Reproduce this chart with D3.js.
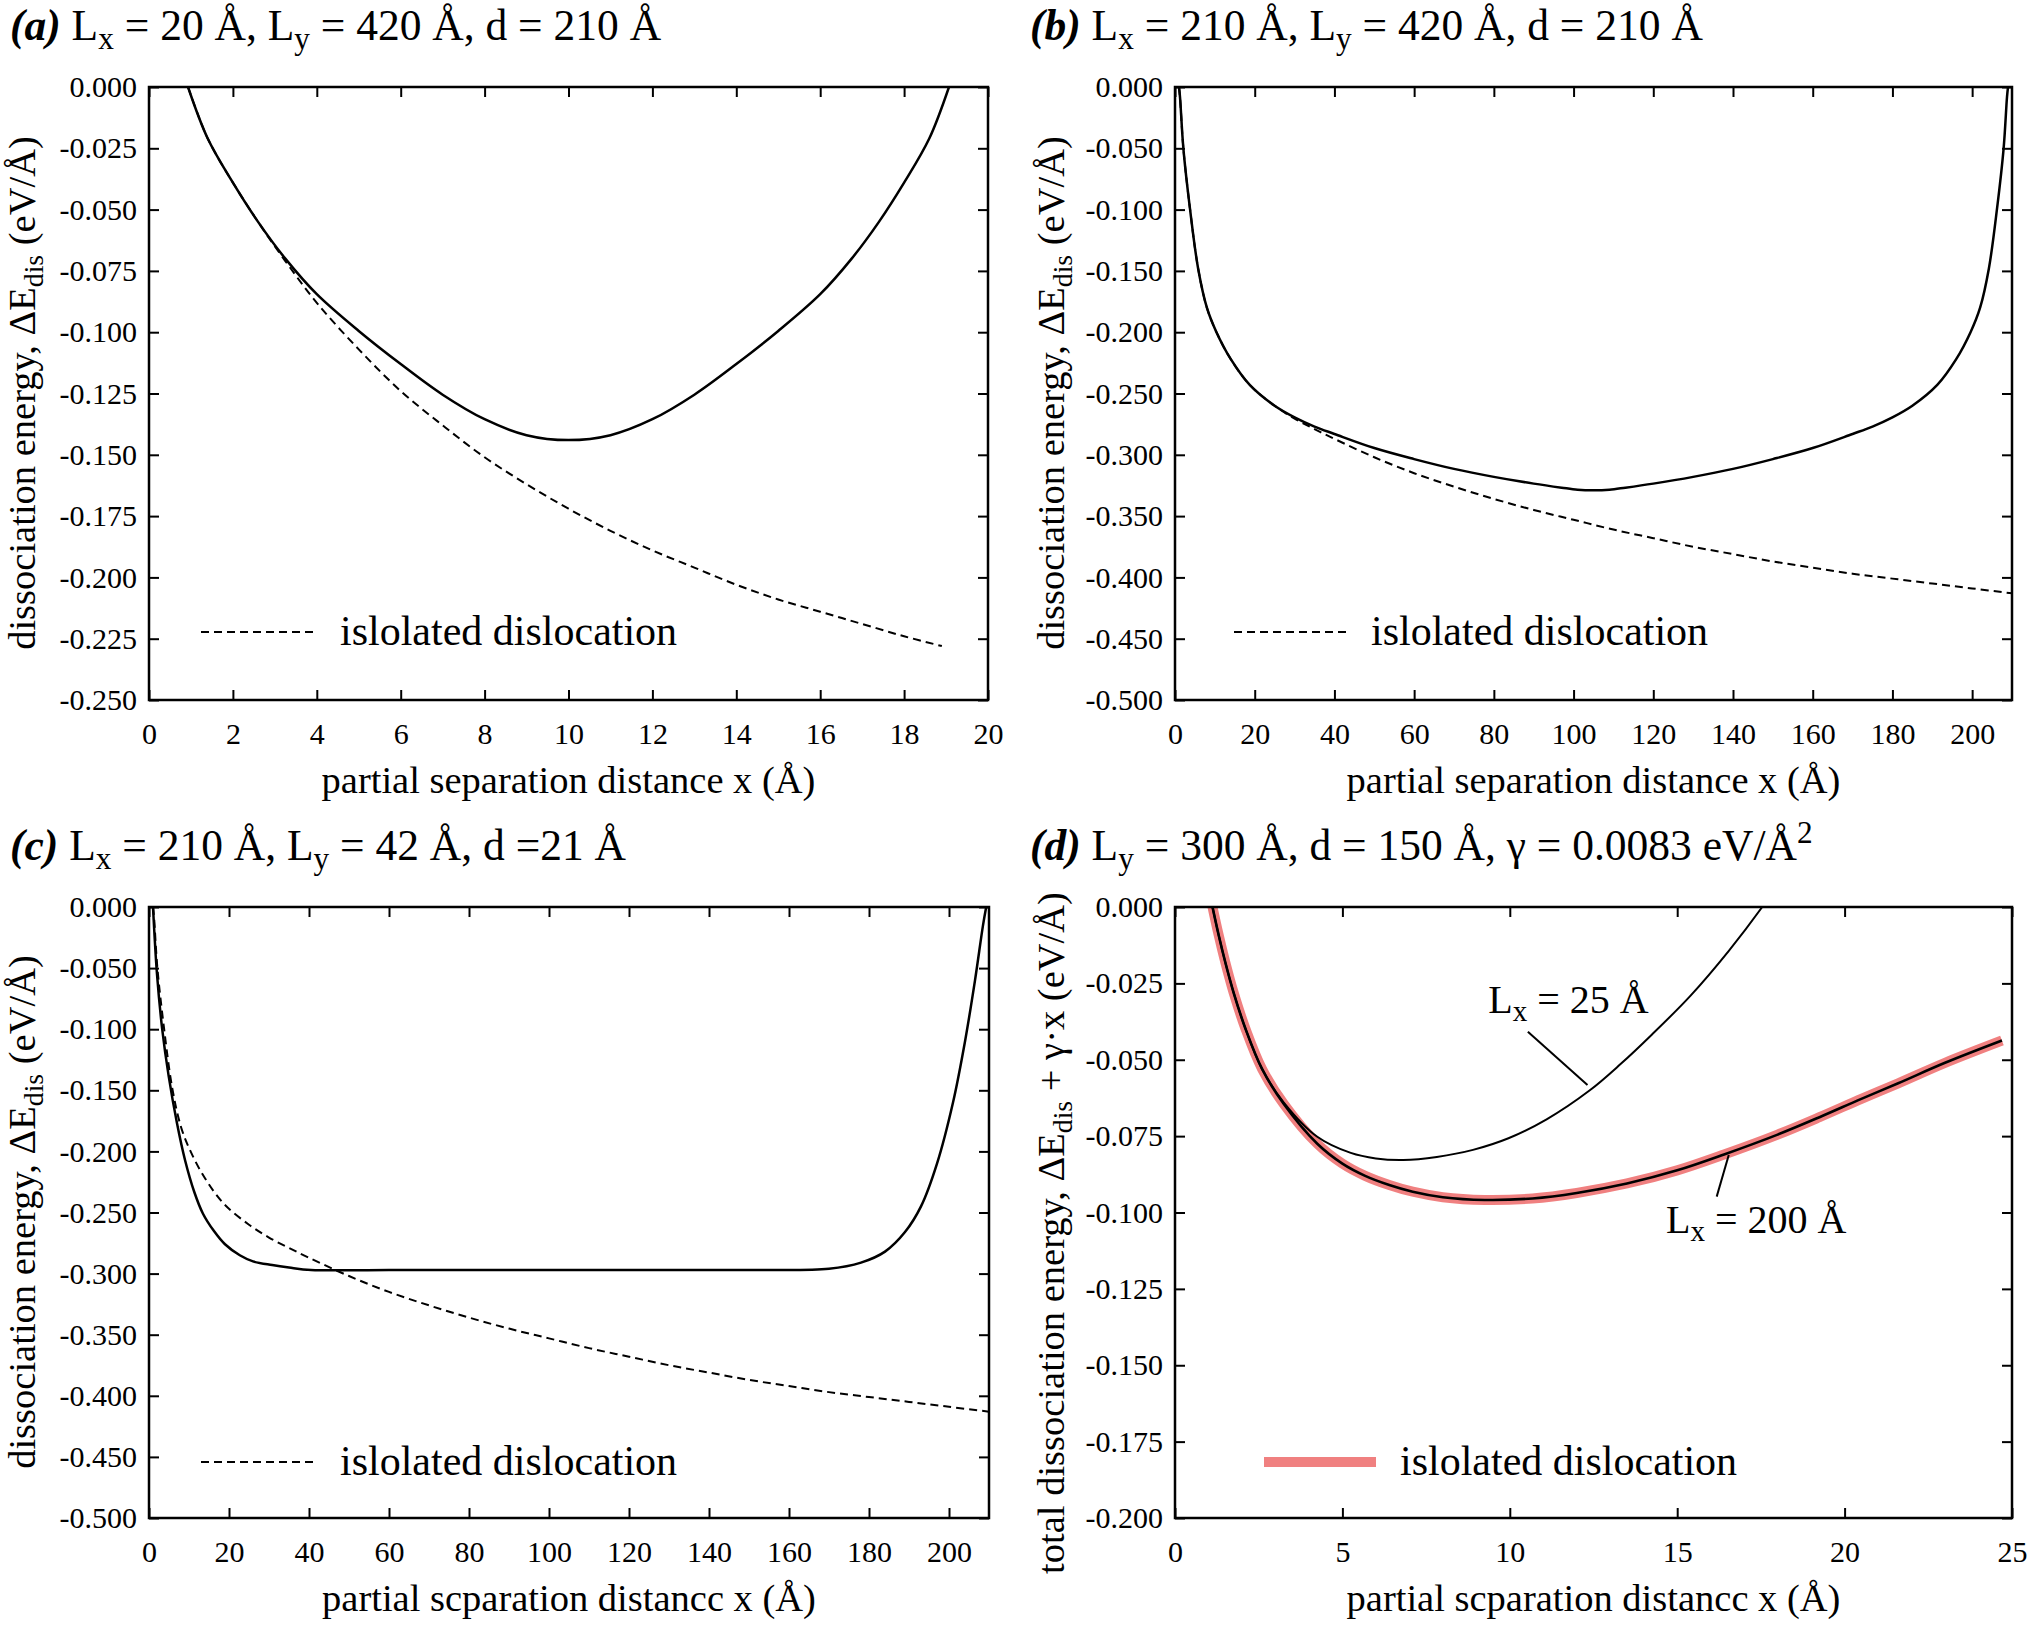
<!DOCTYPE html>
<html><head><meta charset="utf-8">
<script src="https://cdn.jsdelivr.net/npm/d3@7"></script>
<style>
body{margin:0;background:#fff}
svg{display:block}
svg text{font-family:"Liberation Serif","Times New Roman",serif !important;fill:#000}
</style>
</head><body>
<svg id="chart" width="2032" height="1628"></svg>
<script>
// ---------------- DATA ----------------
// (a) Lx = 20, Ly = 420, d = 210
const aSolidX = [0.93,1.4,2,2.6,3.25,4,5,6,7,8,9,10,11,12,13,14,15,16,16.75,17.4,18,18.6,19.07];
const aSolidY = [0,-0.021,-0.039,-0.055,-0.070,-0.0845,-0.0995,-0.113,-0.1255,-0.1355,-0.142,-0.144,-0.142,-0.1355,-0.1255,-0.113,-0.0995,-0.0845,-0.070,-0.055,-0.039,-0.021,0];
const aIsoX = [0.93,1.4,2,2.6,3.25,4,5,6,7,8,9,10,11,12,13,14,15,16,17,18,18.9];
const aIsoY = [0,-0.021,-0.039,-0.055,-0.071,-0.088,-0.107,-0.124,-0.138,-0.151,-0.162,-0.172,-0.181,-0.189,-0.196,-0.203,-0.209,-0.214,-0.219,-0.224,-0.228];
// (b) Lx = 210, Ly = 420, d = 210
const bSolidX = [1.0,1.25,2.1,3.75,5.8,8,10.4,14,18.75,25,30,35,40,50,60,70,80,90,97,101,105,109,113,120,130,140,150,160,170,175,180,185,191.25,196,199.6,202,204.2,206.25,207.9,208.75,209];
const bSolidY = [0,-0.008,-0.050,-0.099,-0.148,-0.180,-0.200,-0.222,-0.243,-0.260,-0.2695,-0.277,-0.283,-0.2945,-0.3035,-0.3115,-0.318,-0.3235,-0.3268,-0.3285,-0.329,-0.3285,-0.3268,-0.3235,-0.318,-0.3115,-0.3035,-0.2945,-0.283,-0.277,-0.2695,-0.260,-0.243,-0.222,-0.200,-0.180,-0.148,-0.099,-0.050,-0.008,0];
const isoX = [1.0,1.25,2.1,3.75,5.8,8,10.4,14,18.75,25,30,35,40,50,60,70,80,90,100,110,120,130,140,150,160,170,180,190,200,210];
const isoY = [0,-0.008,-0.050,-0.099,-0.148,-0.180,-0.200,-0.222,-0.243,-0.260,-0.2705,-0.279,-0.287,-0.302,-0.315,-0.326,-0.336,-0.345,-0.353,-0.361,-0.368,-0.375,-0.381,-0.387,-0.392,-0.397,-0.401,-0.405,-0.409,-0.413];
// (c) Lx = 210, Ly = 42, d = 21
const cSolidX = [1,2,3.3,4.9,7,9,11.3,13.5,16.2,19,22.7,26,30.8,35,40.5,60,100,150,170,178,184,189,193,197,201,204,206.5,208.5,209.3];
const cSolidY = [0,-0.055,-0.100,-0.138,-0.177,-0.207,-0.233,-0.251,-0.265,-0.276,-0.285,-0.290,-0.293,-0.295,-0.297,-0.297,-0.297,-0.297,-0.296,-0.291,-0.282,-0.266,-0.245,-0.210,-0.160,-0.110,-0.060,-0.015,0];
// (d) Ly = 300, d = 150, gamma = 0.0083
const dIsoX = [1.12,1.3,1.5,1.75,2.11,2.6,3.25,4.25,5,5.68,6.4,7.1,8,9.25,10.68,12,13.5,15,16.4,18,19.25,20.5,21.6,23,24.7];
const dIsoY = [0,-0.009,-0.018,-0.028,-0.040,-0.053,-0.0645,-0.0775,-0.084,-0.088,-0.091,-0.0932,-0.0950,-0.0959,-0.0954,-0.0936,-0.0905,-0.0862,-0.0810,-0.0745,-0.0688,-0.0628,-0.0577,-0.051,-0.0437];
const d25X = [1.12,1.3,1.5,1.75,2.11,2.6,3.25,4.25,5.25,6,6.82,7.82,8.9,9.96,11.1,12.39,13.3,14.24,15.4,16.53,17.54];
const d25Y = [0,-0.009,-0.018,-0.028,-0.040,-0.053,-0.064,-0.0752,-0.0805,-0.0823,-0.0828,-0.0818,-0.0795,-0.0757,-0.0695,-0.0600,-0.0515,-0.0418,-0.0290,-0.0145,0];

// ticks
const xTicksA = [0,2,4,6,8,10,12,14,16,18,20];
const xTicksBC = [0,20,40,60,80,100,120,140,160,180,200];
const xTicksD = [0,5,10,15,20,25];
const yTicksA = [0,-0.025,-0.05,-0.075,-0.1,-0.125,-0.15,-0.175,-0.2,-0.225,-0.25];
const yLabelsA = ["0.000","-0.025","-0.050","-0.075","-0.100","-0.125","-0.150","-0.175","-0.200","-0.225","-0.250"];
const yTicksBC = [0,-0.05,-0.1,-0.15,-0.2,-0.25,-0.3,-0.35,-0.4,-0.45,-0.5];
const yLabelsBC = ["0.000","-0.050","-0.100","-0.150","-0.200","-0.250","-0.300","-0.350","-0.400","-0.450","-0.500"];
const yTicksD = [0,-0.025,-0.05,-0.075,-0.1,-0.125,-0.15,-0.175,-0.2];
const yLabelsD = ["0.000","-0.025","-0.050","-0.075","-0.100","-0.125","-0.150","-0.175","-0.200"];

// ---------------- DRAW ----------------
const svg = d3.select("#chart");
const FONT = '"Liberation Serif","Times New Roman",serif';
const TICK_FS = 30, LABEL_FS = 38.5, TITLE_FS = 43.5, LEG_FS = 42;

function zip(xs, ys){ return xs.map((v,i)=>({x:v,y:ys[i]})); }

function title(x, y, parts){
  const t = svg.append("text").attr("x", x).attr("y", y).style("font-size", TITLE_FS+"px").style("font-family",FONT);
  parts.forEach(p=>{
    const s = t.append("tspan").text(p.t);
    if(p.bi) s.style("font-weight","bold").style("font-style","italic");
    if(p.sub){ s.attr("dy","0.28em").style("font-size",(TITLE_FS*0.72)+"px"); }
    if(p.sup){ s.attr("dy","-0.55em").style("font-size",(TITLE_FS*0.72)+"px"); }
    if(p.back) s.attr("dy", p.back);
  });
  return t;
}

function panel(cfg){
  const g = svg.append("g");
  const x = d3.scaleLinear().domain([0,cfg.xmax]).range([cfg.left,cfg.right]);
  const y = d3.scaleLinear().domain([cfg.ymin,0]).range([cfg.bottom,cfg.top]);
  const cid = "clip"+cfg.id;
  svg.append("clipPath").attr("id",cid).append("rect")
    .attr("x",cfg.left).attr("y",cfg.top).attr("width",cfg.right-cfg.left).attr("height",cfg.bottom-cfg.top);

  const ax = (gen, tr) => {
    const a = g.append("g").attr("transform",tr).call(gen).attr("font-family",FONT);
    a.select(".domain").remove();
    a.selectAll(".tick line").attr("stroke","#000").attr("stroke-width",2);
    a.selectAll("text").style("font-size",TICK_FS+"px").style("font-family",FONT);
    return a;
  };
  ax(d3.axisBottom(x).tickValues(cfg.xticks).tickFormat(d=>String(d)).tickSize(-10).tickPadding(23), `translate(0,${cfg.bottom})`);
  ax(d3.axisTop(x).tickValues(cfg.xticks).tickFormat("").tickSize(-10), `translate(0,${cfg.top})`);
  ax(d3.axisLeft(y).tickValues(cfg.yticks).tickFormat((d,i)=>cfg.ylabels[i]).tickSize(-10).tickPadding(12), `translate(${cfg.left},0)`);
  ax(d3.axisRight(y).tickValues(cfg.yticks).tickFormat("").tickSize(-10), `translate(${cfg.right},0)`);

  const plot = g.append("g").attr("clip-path",`url(#${cid})`);
  const line = d3.line().x(d=>x(d.x)).y(d=>y(d.y)).curve(d3.curveCatmullRom.alpha(0.5));
  cfg.series.forEach(s=>{
    plot.append("path").datum(zip(s.x,s.y)).attr("d",line)
      .attr("fill","none").attr("stroke",s.color||"#000").attr("stroke-width",s.w||2.5)
      .attr("stroke-dasharray",s.dash||null).attr("stroke-linejoin","round");
  });
  g.append("rect").attr("x",cfg.left).attr("y",cfg.top).attr("width",cfg.right-cfg.left).attr("height",cfg.bottom-cfg.top)
    .attr("fill","none").attr("stroke","#000").attr("stroke-width",2.5);

  // x label
  g.append("text").attr("x",(cfg.left+cfg.right)/2).attr("y",cfg.bottom+93).attr("text-anchor","middle")
    .style("font-size",LABEL_FS+"px").style("font-family",FONT).text(cfg.xlabel);
  // y label
  const yl = g.append("text").attr("transform",`translate(${cfg.ylx},${cfg.yly}) rotate(-90)`)
    .attr("text-anchor","middle").style("font-size",LABEL_FS+"px").style("font-family",FONT);
  cfg.ylabel.forEach(p=>{
    const s = yl.append("tspan").text(p.t);
    if(p.sub) s.attr("dy","0.28em").style("font-size",(LABEL_FS*0.72)+"px");
    if(p.back) s.attr("dy",p.back);
  });
  // legend
  if(cfg.legend){
    const L = cfg.legend;
    g.append("line").attr("x1",L.x1).attr("x2",L.x2).attr("y1",L.y).attr("y2",L.y)
      .attr("stroke",L.color||"#000").attr("stroke-width",L.w||2).attr("stroke-dasharray",L.dash||null);
    g.append("text").attr("x",L.tx).attr("y",L.y+13).style("font-size",LEG_FS+"px").style("font-family",FONT).text("islolated dislocation");
  }
  return {x,y,g};
}

const yLab = [{t:"dissociation energy, ΔE"},{t:"dis",sub:true},{t:" (eV/Å)",back:"-0.2em"}];

panel({id:"a",left:149,right:988,top:87,bottom:700,xmax:20,ymin:-0.25,
  xticks:xTicksA,yticks:yTicksA,ylabels:yLabelsA,
  xlabel:"partial separation distance x (Å)",ylx:35,yly:393,ylabel:yLab,
  series:[{x:aSolidX,y:aSolidY},{x:aIsoX,y:aIsoY,dash:"8,5",w:2}],
  legend:{x1:201,x2:315,y:632,dash:"8,5",tx:340}});
panel({id:"b",left:1175,right:2012,top:87,bottom:700,xmax:210,ymin:-0.5,
  xticks:xTicksBC,yticks:yTicksBC,ylabels:yLabelsBC,
  xlabel:"partial separation distance x (Å)",ylx:1064,yly:393,ylabel:yLab,
  series:[{x:bSolidX,y:bSolidY},{x:isoX,y:isoY,dash:"8,5",w:2}],
  legend:{x1:1234,x2:1348,y:632,dash:"8,5",tx:1371}});
panel({id:"c",left:149,right:989,top:907,bottom:1518,xmax:210,ymin:-0.5,
  xticks:xTicksBC,yticks:yTicksBC,ylabels:yLabelsBC,
  xlabel:"partial scparation distancc x (Å)",ylx:35,yly:1212,ylabel:yLab,
  series:[{x:cSolidX,y:cSolidY},{x:isoX,y:isoY,dash:"8,5",w:2}],
  legend:{x1:201,x2:315,y:1462,dash:"8,5",tx:340}});
const pd = panel({id:"d",left:1175,right:2012,top:907,bottom:1518,xmax:25,ymin:-0.2,
  xticks:xTicksD,yticks:yTicksD,ylabels:yLabelsD,
  xlabel:"partial scparation distancc x (Å)",ylx:1064,yly:1233,
  ylabel:[{t:"total dissociation energy, ΔE"},{t:"dis",sub:true},{t:" + γ·x (eV/Å)",back:"-0.2em"}],
  series:[{x:dIsoX,y:dIsoY,color:"#f08080",w:10},{x:dIsoX,y:dIsoY,w:2.6},{x:d25X,y:d25Y,w:2}],
  legend:{x1:1264,x2:1376,y:1462,color:"#f08080",w:10,tx:1400}});

// annotations in panel d (data coordinates)
const annG = svg.append("g");
const ann = [
  {tx:11.75, ty:-0.0347, lx1:10.54, ly1:-0.0408, lx2:12.32, ly2:-0.0583, sub:"x", rest:" = 25 Å"},
  {tx:17.36, ty:-0.1067, lx1:16.54, ly1:-0.0812, lx2:16.18, ly2:-0.0948, sub:"x", rest:" = 200 Å"}
];
ann.forEach(a=>{
  const t = annG.append("text").attr("x",pd.x(a.tx)).attr("y",pd.y(a.ty)).attr("text-anchor","middle")
    .style("font-size","40px").style("font-family",FONT);
  t.append("tspan").text("L");
  t.append("tspan").text(a.sub).attr("dy","0.28em").style("font-size","29px");
  t.append("tspan").text(a.rest).attr("dy","-0.2em");
  annG.append("line").attr("x1",pd.x(a.lx1)).attr("y1",pd.y(a.ly1)).attr("x2",pd.x(a.lx2)).attr("y2",pd.y(a.ly2))
    .attr("stroke","#000").attr("stroke-width",2);
});

// titles
title(10,40,[{t:"(a)",bi:true},{t:" L"},{t:"x",sub:true},{t:" = 20 Å, L",back:"-0.2em"},{t:"y",sub:true},{t:" = 420 Å, d = 210 Å",back:"-0.2em"}]);
title(1030,40,[{t:"(b)",bi:true},{t:" L"},{t:"x",sub:true},{t:" = 210 Å, L",back:"-0.2em"},{t:"y",sub:true},{t:" = 420 Å, d = 210 Å",back:"-0.2em"}]);
title(10,860,[{t:"(c)",bi:true},{t:" L"},{t:"x",sub:true},{t:" = 210 Å, L",back:"-0.2em"},{t:"y",sub:true},{t:" = 42 Å, d =21 Å",back:"-0.2em"}]);
title(1030,860,[{t:"(d)",bi:true},{t:" L"},{t:"y",sub:true},{t:" = 300 Å, d = 150 Å, γ = 0.0083 eV/Å",back:"-0.2em"},{t:"2",sup:true}]);
</script>
</body></html>
